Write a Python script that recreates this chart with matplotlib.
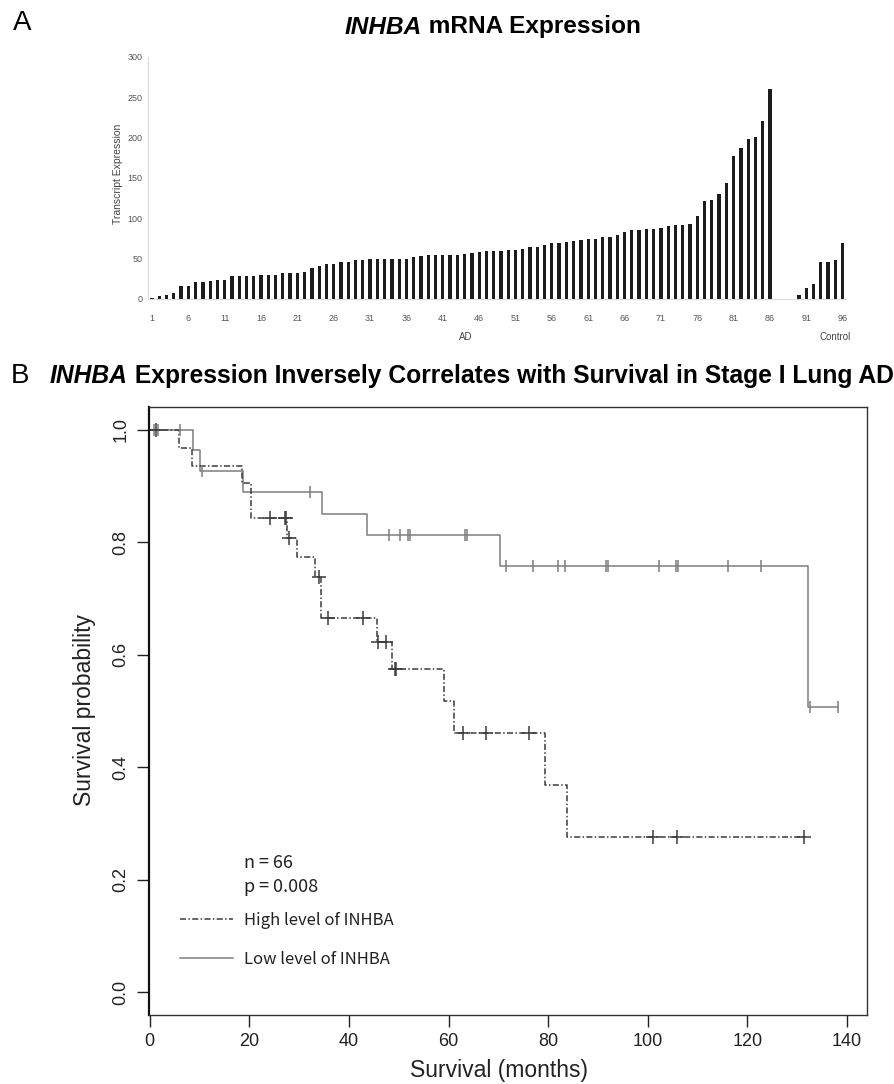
import numpy as np
import matplotlib
matplotlib.use("Agg")
import matplotlib.pyplot as plt
from matplotlib.lines import Line2D

# ---------------- data: panel A ----------------
ad_values = [1, 4, 5, 7, 16, 16, 21, 21, 22, 23, 23, 29, 29, 29, 29, 30, 30, 30, 32, 32,
             32, 33, 39, 41, 43, 43, 46, 46, 48, 48, 49, 49, 49, 50, 50, 50, 52, 53, 54, 55,
             55, 55, 55, 56, 57, 58, 60, 60, 60, 61, 61, 62, 64, 64, 67, 69, 69, 71, 72, 73,
             74, 74, 77, 77, 79, 83, 85, 85, 87, 87, 88, 90, 92, 92, 93, 103, 121, 123, 130, 144,
             177, 187, 198, 200, 220, 260]
control_values = [0, 0, 0, 5, 14, 19, 46, 46, 48, 69]
sample_ticks = [1, 6, 11, 16, 21, 26, 31, 36, 41, 46, 51, 56, 61, 66, 71, 76, 81, 86, 91, 96]
expr_ticks = [0, 50, 100, 150, 200, 250, 300]

# ---------------- data: panel B (Kaplan-Meier) ----------------
low_times = [0, 8.6, 10.0, 18.7, 34.5, 43.6, 70.4, 132.2, 138.2]
low_surv = [1.0, 0.964, 0.927, 0.890, 0.851, 0.812, 0.758, 0.507, 0.507]
low_censor = [0.8, 1.6, 6.0, 10.4, 32.1, 48.1, 50.2, 51.9, 52.3, 63.3, 63.6, 71.6, 77.0,
              82.0, 83.3, 91.6, 92.0, 102.3, 105.7, 106.1, 116.2, 122.7, 132.5, 138.2]
high_times = [0, 5.8, 8.4, 18.6, 20.4, 27.6, 29.5, 33.1, 34.4, 45.6, 48.7, 59.0, 61.1,
              79.4, 83.8, 131.3]
high_surv = [1.0, 0.967, 0.936, 0.906, 0.843, 0.808, 0.773, 0.738, 0.665, 0.622, 0.575,
             0.517, 0.461, 0.369, 0.276, 0.276]
high_censor = [1.2, 24.2, 27.1, 27.4, 27.9, 33.9, 35.8, 42.8, 45.9, 47.4, 49.2, 49.5,
               62.8, 67.6, 76.2, 101.1, 105.8, 131.3]
surv_xticks = [0, 20, 40, 60, 80, 100, 120, 140]
surv_yticks = [0.0, 0.2, 0.4, 0.6, 0.8, 1.0]

W, H = 894, 1084
fig = plt.figure(figsize=(W / 100, H / 100), dpi=100)
SANS = ["Liberation Sans", "DejaVu Sans"]
JP = ["Noto Sans CJK JP", "DejaVu Sans"]


def fx(px):
    return px / W


def fy(py):
    return 1 - py / H


renderer = fig.canvas.get_renderer()


def mixed_text(parts, x_left, y_center, target_width, family):
    # measure at size 10, then scale to the target width
    probe = []
    total = 0
    for txt, style in parts:
        t = fig.text(0, 0, txt, fontsize=10, fontweight="bold", fontstyle=style, family=family)
        total += t.get_window_extent(renderer).width
        probe.append(t)
    for t in probe:
        t.remove()
    size = 10 * target_width / total
    x = x_left
    for txt, style in parts:
        t = fig.text(fx(x), fy(y_center), txt, fontsize=size, fontweight="bold",
                     fontstyle=style, family=family, ha="left", va="center")
        x += t.get_window_extent(renderer).width


# ---------------- panel A ----------------
pos_all = np.arange(1, len(ad_values) + len(control_values) + 1)
vals_all = ad_values + control_values
axA = fig.add_axes([fx(148), fy(299), fx(845.7 - 148), (299 - 56.7) / H])
axA.bar(pos_all, vals_all, width=0.45, color="#1c1c1c", edgecolor="none")
axA.set_xlim(0.45, 96.42)
axA.set_ylim(0, 300)
for s in ["top", "right"]:
    axA.spines[s].set_visible(False)
for s in ["left", "bottom"]:
    axA.spines[s].set_color("#d8d8d8")
    axA.spines[s].set_linewidth(0.8)
axA.set_xticks(sample_ticks)
axA.set_xticklabels([str(v) for v in sample_ticks])
axA.set_yticks(expr_ticks)
axA.set_yticklabels([str(v) for v in expr_ticks])
axA.tick_params(axis="both", length=0, labelsize=6.5, labelcolor="#555555")
axA.tick_params(axis="x", pad=11)
axA.tick_params(axis="y", pad=4)
for lab in axA.get_xticklabels() + axA.get_yticklabels():
    lab.set_family(SANS)
fig.text(fx(118), fy(174), "Transcript Expression", rotation=90, ha="center", va="center",
         fontsize=7.5, color="#444444", family=SANS)
fig.text(fx(466), fy(337), "AD", ha="center", va="center", fontsize=7, color="#444444", family=SANS)
fig.text(fx(835), fy(337), "Control", ha="center", va="center", fontsize=7, color="#444444", family=SANS)

fig.text(fx(22), fy(23), "A", ha="center", va="center", fontsize=20, family=SANS)
mixed_text([("INHBA", "italic"), (" mRNA Expression", "normal")], 345, 27, 295, SANS)

# ---------------- panel B ----------------
fig.text(fx(20), fy(376), "B", ha="center", va="center", fontsize=20, family=SANS)
mixed_text([("INHBA", "italic"),
            (" Expression Inversely Correlates with Survival in Stage I Lung AD", "normal")],
           50, 376, 843, SANS)

axB = fig.add_axes([fx(149.3), fy(1014.5), fx(866.7 - 149.3), (1014.5 - 407.3) / H])
low_col = "#7d7d7d"
high_col = "#3c3c3c"
dashdot = (0, (4, 1.5, 1, 1.5))
axB.step(low_times, low_surv, where="post", color=low_col, lw=1.1)
axB.step(high_times, high_surv, where="post", color=high_col, lw=1.1, linestyle=dashdot)


def surv_at(times, surv, t):
    idx = np.searchsorted(times, t, side="right") - 1
    return surv[idx]


axB.plot(low_censor, [surv_at(low_times, low_surv, t) for t in low_censor], linestyle="none",
         marker="|", markersize=9, mew=1.1, color=low_col)
axB.plot(high_censor, [surv_at(high_times, high_surv, t) for t in high_censor], linestyle="none",
         marker="+", markersize=10, mew=1.1, color=high_col)

axB.set_xlim(-0.1, 143.95)
axB.set_ylim(-0.04, 1.04)
axB.set_xticks(surv_xticks)
axB.set_xticklabels([str(v) for v in surv_xticks])
axB.set_yticks(surv_yticks)
axB.set_yticklabels(["%.1f" % v for v in surv_yticks], rotation=90, va="center")
axB.tick_params(axis="both", direction="out", length=8.5, width=1.0, labelsize=13,
                color="#222222", labelcolor="#222222")
axB.tick_params(axis="x", pad=5)
axB.tick_params(axis="y", pad=6)
for lab in axB.get_xticklabels() + axB.get_yticklabels():
    lab.set_family(SANS)
for s in axB.spines.values():
    s.set_color("#333333")
    s.set_linewidth(1.0)
axB.spines["left"].set_linewidth(1.6)
axB.spines["left"].set_color("#111111")

fig.text(fx(499), fy(1070), "Survival (months)", ha="center", va="center", fontsize=16.5,
         color="#222222", family=SANS)
fig.text(fx(85), fy(710), "Survival probability", rotation=90, ha="center", va="center",
         fontsize=16.5, color="#222222", family=SANS)

axB.text(18.9, 0.229, "n = 66", ha="left", va="center", fontsize=13, family=JP, color="#222222")
axB.text(18.9, 0.186, "p = 0.008", ha="left", va="center", fontsize=13, family=JP, color="#222222")

h_high = Line2D([], [], color=high_col, lw=1.1, linestyle=dashdot)
h_low = Line2D([], [], color=low_col, lw=1.1)
leg = axB.legend([h_high, h_low], ["High level of INHBA", "Low level of INHBA"],
                 loc="upper left", bbox_to_anchor=(0.0215, 0.1934), frameon=False,
                 handlelength=3.2, handletextpad=0.66, labelspacing=1.29,
                 prop={"family": JP, "size": 12})
for t in leg.get_texts():
    t.set_color("#222222")

fig.savefig("out.png", dpi=100)
